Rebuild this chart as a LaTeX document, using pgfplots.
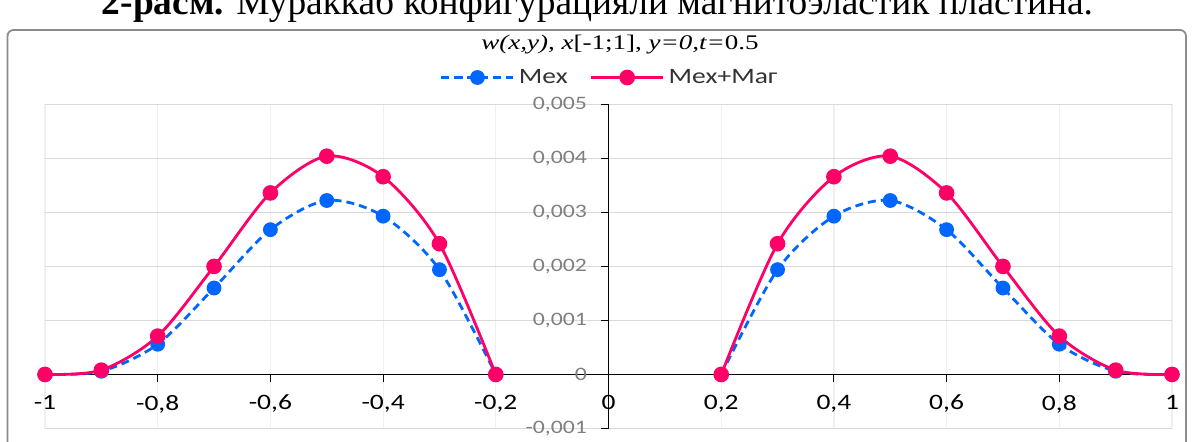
\documentclass[border=0pt]{standalone}
\usepackage{fontspec}
\usepackage{pgfplots}
\pgfplotsset{compat=1.18}
\setmainfont{Carlito}[FakeStretch=1.25]
\newfontfamily\tnr{Liberation Serif}[FakeStretch=1.3]
\newfontfamily\capfont{Liberation Serif}
\definecolor{mexblue}{HTML}{0066FF}
\definecolor{magred}{HTML}{FF0066}
\definecolor{gridmaj}{HTML}{D9D9D9}
\definecolor{gridmin}{HTML}{EFEFEF}
\definecolor{labgray}{HTML}{7F7F7F}
\definecolor{framegray}{HTML}{8C8C8C}

\begin{document}
\begin{tikzpicture}[x=1pt,y=1pt]
\useasboundingbox (0,0) rectangle (597,220.5);
% caption of the figure, cut at the top edge
\node[anchor=base,inner sep=0pt,font=\capfont\fontsize{18.7}{20}\selectfont] at (298.75,213.5)
  {\textbf{2-расм.} Мураккаб конфигурацияли магнитоэластик пластина.};
\draw[framegray,line width=0.9pt,rounded corners=3pt] (3.75,-10) rectangle (593,205.5);
\node[font=\tnr\fontsize{10.4}{12}\selectfont] at (310,198.4)
  {\textit{w(x,y), x}[-1;1], \textit{y=0,t=}0.5};
\begin{axis}[
  at={(22.5pt,6.25pt)},anchor=south west,
  scale only axis,width=563.5pt,height=162.1pt,
  xmin=-1,xmax=1,ymin=-0.001,ymax=0.005,
  axis lines=middle,axis line style={-,black,line width=0.5pt},
  xtick={-1,-0.8,-0.6,-0.4,-0.2,0.2,0.4,0.6,0.8,1},
  ytick={-0.001,0.001,0.002,0.003,0.004,0.005},
  extra x ticks={0},extra y ticks={0},
  minor x tick num=4,
  xmajorgrids,xminorgrids,ymajorgrids,
  major x grid style={gridmin,line width=0.6pt},
  minor x grid style={gridmin,line width=0.6pt},
  major y grid style={gridmaj,line width=0.7pt},
  tick align=outside,major tick length=3.75pt,minor tick length=0pt,
  tick style={black,line width=0.5pt},
  scaled y ticks=false,
  /pgf/number format/assume math mode=true,
  /pgf/number format/use comma,
  yticklabel style={/pgf/number format/fixed,/pgf/number format/precision=3,
    font=\fontsize{9.5}{10}\selectfont,text=labgray,xshift=-3.5pt},
  xticklabel style={font=\fontsize{11}{12}\selectfont,text=black,yshift=-3pt},
  extra x tick style={grid=none},
  extra y tick style={grid=none},
  clip=false,
  legend columns=2,
  legend style={at={(0.502,1.0827)},anchor=center,draw=none,fill=none,
    font=\fontsize{11}{12}\selectfont,text=black!80,
    /tikz/every even column/.append style={column sep=9pt}},
  legend image code/.code={\draw[mark repeat=2,mark phase=2,#1]
    plot coordinates {(0pt,0pt)(18pt,0pt)(36pt,0pt)};},
]
\addplot[mexblue,line width=1.4pt,dash pattern=on 4pt off 2.5pt,smooth,
  mark=*,mark size=3pt,mark options={solid}]
  coordinates {(-1,0) (-0.9,0.00006) (-0.8,0.00056) (-0.7,0.0016) (-0.6,0.00268)
    (-0.5,0.00322) (-0.4,0.00293) (-0.3,0.00194) (-0.2,0)};
\addlegendentry{Мех}
\addplot[magred,line width=1.4pt,smooth,mark=*,mark size=3.2pt]
  coordinates {(-1,0) (-0.9,0.00008) (-0.8,0.00071) (-0.7,0.0020) (-0.6,0.00336)
    (-0.5,0.00404) (-0.4,0.00366) (-0.3,0.00242) (-0.2,0)};
\addlegendentry{Мех+Маг}
\addplot[mexblue,line width=1.4pt,dash pattern=on 4pt off 2.5pt,smooth,
  mark=*,mark size=3pt,mark options={solid},forget plot]
  coordinates {(0.2,0) (0.3,0.00194) (0.4,0.00293) (0.5,0.00322) (0.6,0.00268)
    (0.7,0.0016) (0.8,0.00056) (0.9,0.00006) (1,0)};
\addplot[magred,line width=1.4pt,smooth,mark=*,mark size=3.2pt,forget plot]
  coordinates {(0.2,0) (0.3,0.00242) (0.4,0.00366) (0.5,0.00404) (0.6,0.00336)
    (0.7,0.0020) (0.8,0.00071) (0.9,0.00008) (1,0)};
\end{axis}
\end{tikzpicture}
\end{document}
